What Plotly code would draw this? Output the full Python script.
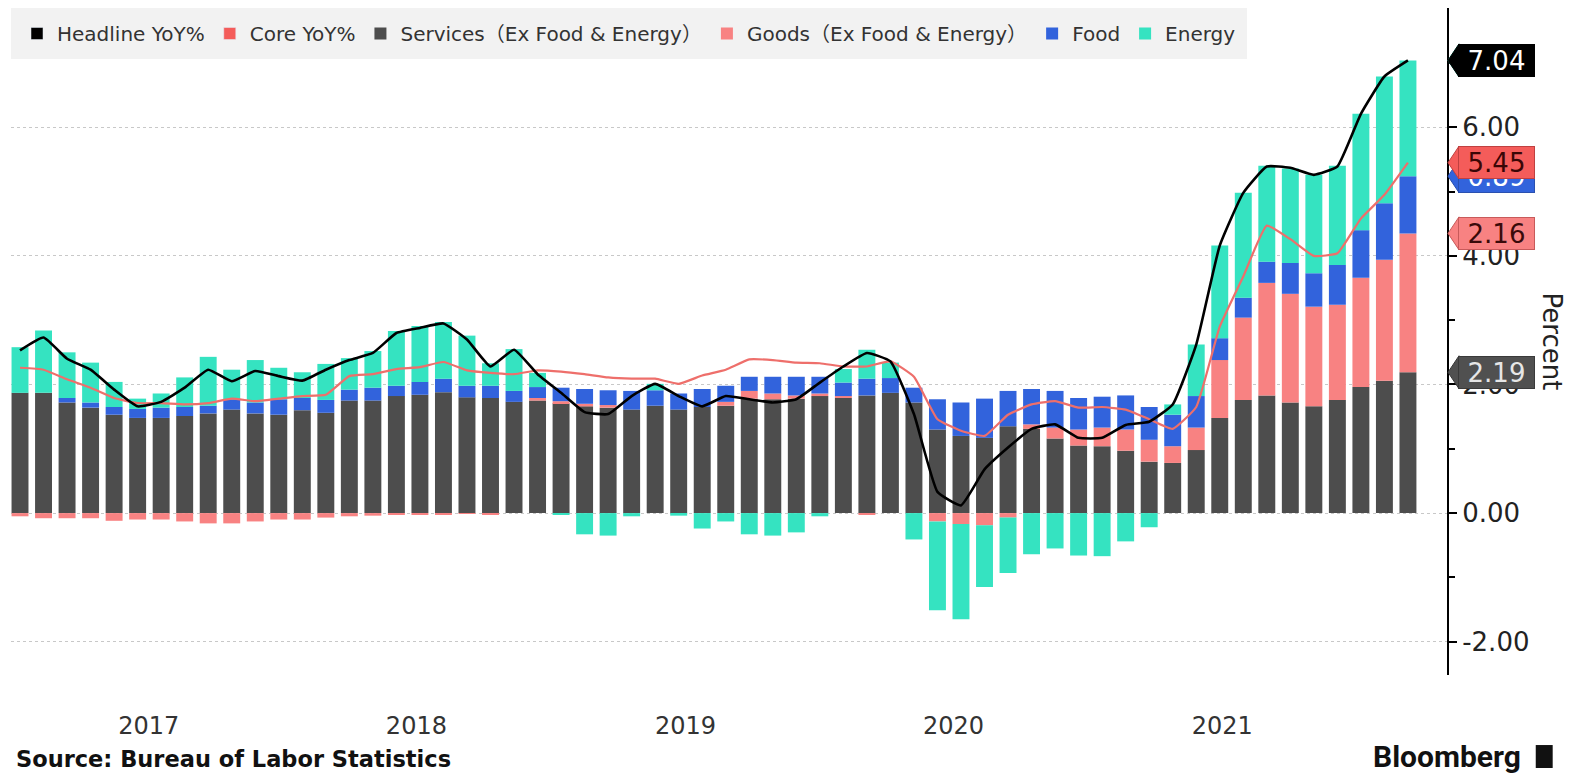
import plotly.graph_objects as go

# ---------------- data (contributions to US CPI YoY, percentage points) ----------------
MONTHS = [f"{y}-{m:02d}" for y in range(2017, 2022) for m in range(1, 13)]

SERVICES = [1.87, 1.87, 1.72, 1.64, 1.53, 1.48, 1.48, 1.51, 1.55, 1.61, 1.55, 1.53,
            1.60, 1.56, 1.75, 1.75, 1.82, 1.84, 1.88, 1.80, 1.79, 1.73, 1.75, 1.71,
            1.66, 1.64, 1.61, 1.67, 1.61, 1.65, 1.67, 1.78, 1.77, 1.78, 1.82, 1.79,
            1.83, 1.87, 1.72, 1.30, 1.20, 1.17, 1.35, 1.31, 1.16, 1.05, 1.04, 0.97,
            0.80, 0.78, 0.98, 1.48, 1.76, 1.83, 1.72, 1.66, 1.76, 1.96, 2.06, 2.19]

GOODS = [-0.05, -0.08, -0.08, -0.08, -0.12, -0.10, -0.10, -0.13, -0.16, -0.16, -0.13, -0.10,
         -0.10, -0.07, -0.05, -0.04, -0.03, -0.03, -0.02, -0.01, -0.03, 0.00, 0.04, 0.03,
         0.04, 0.04, 0.00, 0.00, -0.01, 0.00, 0.06, 0.12, 0.09, 0.05, 0.04, 0.03,
         -0.02, 0.00, 0.00, -0.13, -0.17, -0.19, -0.07, 0.07, 0.17, 0.25, 0.29, 0.33,
         0.34, 0.26, 0.35, 0.90, 1.28, 1.75, 1.69, 1.55, 1.48, 1.70, 1.88, 2.16]

FOOD = [0.00, 0.00, 0.07, 0.08, 0.12, 0.14, 0.16, 0.14, 0.12, 0.16, 0.17, 0.24,
        0.19, 0.20, 0.17, 0.20, 0.16, 0.20, 0.21, 0.18, 0.19, 0.17, 0.17, 0.21,
        0.23, 0.23, 0.29, 0.24, 0.25, 0.28, 0.25, 0.22, 0.26, 0.29, 0.26, 0.21,
        0.26, 0.23, 0.23, 0.47, 0.52, 0.61, 0.55, 0.55, 0.57, 0.49, 0.48, 0.53,
        0.51, 0.49, 0.49, 0.34, 0.31, 0.33, 0.48, 0.52, 0.62, 0.74, 0.88, 0.89]

ENERGY = [0.71, 0.97, 0.71, 0.62, 0.39, 0.16, 0.22, 0.46, 0.76, 0.46, 0.66, 0.49,
          0.40, 0.56, 0.49, 0.57, 0.85, 0.87, 0.88, 0.78, 0.35, 0.65, 0.22, -0.03,
          -0.33, -0.35, -0.05, 0.10, -0.03, -0.24, -0.13, -0.33, -0.35, -0.30, -0.05, 0.21,
          0.45, 0.24, -0.41, -1.38, -1.48, -0.96, -0.86, -0.64, -0.55, -0.66, -0.67, -0.44,
          -0.22, 0.16, 0.80, 1.44, 1.63, 1.49, 1.47, 1.53, 1.54, 1.81, 1.97, 1.80]

HEADLINE = [2.53, 2.73, 2.40, 2.23, 1.92, 1.66, 1.73, 1.95, 2.23, 2.05, 2.21, 2.13,
            2.06, 2.23, 2.38, 2.49, 2.80, 2.88, 2.95, 2.70, 2.28, 2.54, 2.16, 1.87,
            1.57, 1.54, 1.82, 2.01, 1.82, 1.66, 1.82, 1.77, 1.72, 1.77, 2.03, 2.28,
            2.49, 2.36, 1.54, 0.33, 0.12, 0.68, 1.02, 1.31, 1.38, 1.17, 1.17, 1.37,
            1.42, 1.69, 2.62, 4.16, 4.98, 5.39, 5.37, 5.26, 5.39, 6.21, 6.79, 7.04]

CORE = [2.26, 2.23, 2.08, 1.95, 1.79, 1.71, 1.71, 1.69, 1.71, 1.78, 1.74, 1.78,
        1.82, 1.84, 2.13, 2.16, 2.24, 2.27, 2.35, 2.22, 2.18, 2.16, 2.22, 2.20,
        2.16, 2.11, 2.09, 2.09, 2.01, 2.14, 2.23, 2.39, 2.38, 2.34, 2.33, 2.28,
        2.28, 2.36, 2.12, 1.46, 1.28, 1.20, 1.53, 1.69, 1.74, 1.64, 1.65, 1.61,
        1.46, 1.31, 1.65, 2.90, 3.68, 4.47, 4.26, 4.00, 4.04, 4.58, 4.95, 5.45]

YEAR_LABELS = ["2017", "2018", "2019", "2020", "2021"]
YEAR_TICK_POS = [5.47, 16.85, 28.29, 39.68, 51.11]   # in month-index units
Y_TICKS = [-2, 0, 2, 4, 6]
Y_TICK_TEXT = [f"{v:.2f}" for v in Y_TICKS]
Y_MINOR = [-1, 1, 3, 5, 7]

# ---------------- styling ----------------
FONT = "DejaVu Sans, Noto Sans CJK SC, sans-serif"
C_HEAD = "#000000"
C_CORE = "#f45c5a"
C_CORE_LINE = "#ee6f6b"
C_SERV = "#4d4d4d"
C_GOODS = "#f88282"
C_FOOD = "#3263dc"
C_ENERGY = "#35e3c1"

X = list(range(len(MONTHS)))
BAR_W = 0.72

fig = go.Figure()

# legend entries for the two lines (square swatches like the reference; they draw nothing)
fig.add_trace(go.Bar(x=[None], y=[None], name="Headline YoY%", marker_color=C_HEAD,
                     legendgroup="head", hoverinfo="skip"))
fig.add_trace(go.Bar(x=[None], y=[None], name="Core YoY%", marker_color=C_CORE,
                     legendgroup="core", hoverinfo="skip"))

for name, vals, col in [("Services（Ex Food & Energy）", SERVICES, C_SERV),
                        ("Goods（Ex Food & Energy）", GOODS, C_GOODS),
                        ("Food", FOOD, C_FOOD),
                        ("Energy", ENERGY, C_ENERGY)]:
    fig.add_trace(go.Bar(x=X, y=vals, name=name, width=BAR_W,
                         marker=dict(color=col, line=dict(width=0)),
                         customdata=MONTHS,
                         hovertemplate="%{customdata}: %{y:.2f}<extra>" + name + "</extra>"))

fig.add_trace(go.Scatter(x=X, y=CORE, mode="lines", name="Core YoY%", showlegend=False,
                         legendgroup="core", customdata=MONTHS,
                         hovertemplate="%{customdata}: %{y:.2f}<extra>Core YoY%</extra>",
                         line=dict(color=C_CORE_LINE, width=2.2, shape="spline", smoothing=0.4)))
fig.add_trace(go.Scatter(x=X, y=HEADLINE, mode="lines", name="Headline YoY%", showlegend=False,
                         legendgroup="head", customdata=MONTHS,
                         hovertemplate="%{customdata}: %{y:.2f}<extra>Headline YoY%</extra>",
                         line=dict(color=C_HEAD, width=2.6, shape="spline", smoothing=0.4)))

# ---------------- right-hand value tags ----------------
last = len(X) - 1
cum_serv = SERVICES[last]
cum_goods = cum_serv + GOODS[last]
cum_food = cum_goods + FOOD[last]
cum_energy = cum_food + ENERGY[last]

tags = [  # (y position, value shown, bg, text color, border) drawn bottom to top
    (cum_energy, ENERGY[last], C_ENERGY, "#1a1a1a", C_ENERGY),
    (cum_serv, SERVICES[last], "#505050", "#e6e6e6", "#3a3a3a"),
    (cum_goods, GOODS[last], C_GOODS, "#3a0a0a", "#c85a5a"),
    (cum_food, FOOD[last], C_FOOD, "#ffffff", "#2a50b0"),
    (CORE[last], CORE[last], C_CORE, "#3a0606", "#c04040"),
    (HEADLINE[last], HEADLINE[last], C_HEAD, "#ffffff", "#000000"),
]
for ypos, val, bg, fg, bd in tags:
    fig.add_shape(type="path", xref="paper", yref="y", xsizemode="pixel", ysizemode="pixel",
                  xanchor=1, yanchor=ypos, path="M 1 0 L 12 16.5 L 12 -16.5 Z",
                  fillcolor=bg, line=dict(color=bd, width=1), layer="above")
    fig.add_annotation(xref="paper", yref="y", x=1, y=ypos, xanchor="left", yanchor="middle",
                       xshift=11, text=f"{val:.2f}", showarrow=False, bgcolor=bg,
                       bordercolor=bd, borderwidth=1, borderpad=0, width=75, height=31,
                       align="center", font=dict(size=26, color=fg, family=FONT))

# axis title and footer texts
fig.add_annotation(xref="paper", yref="paper", x=1.0738, y=0.5, text="Percent",
                   textangle=90, showarrow=False, xanchor="center", yanchor="middle",
                   font=dict(size=26, color="#222222", family=FONT))
fig.add_annotation(xref="paper", yref="paper", x=0.002, y=-0.126, xanchor="left",
                   yanchor="middle", text="<b>Source: Bureau of Labor Statistics</b>",
                   showarrow=False, font=dict(size=22.5, color="#111111", family=FONT))
fig.add_annotation(xref="paper", yref="paper", x=1.0527, y=-0.122, xanchor="right",
                   yanchor="middle", text="<b>Bloomberg</b>", showarrow=False,
                   font=dict(size=30, color="#111111", family="Roboto, DejaVu Sans, sans-serif"))
fig.add_shape(type="rect", xref="paper", yref="paper", x0=1.0618, x1=1.0736,
              y0=-0.1394, y1=-0.105, fillcolor="#111111", line=dict(width=0))

fig.update_layout(
    width=1574, height=777,
    margin=dict(l=11, r=127, t=8, b=102),
    barmode="relative",
    bargap=0.28,
    plot_bgcolor="white", paper_bgcolor="white",
    font=dict(family=FONT, color="#333333"),
    showlegend=True,
    legend=dict(orientation="h", x=0, y=1, xanchor="left", yanchor="top",
                bgcolor="#f2f2f2", bordercolor="#f2f2f2", borderwidth=6,
                font=dict(size=20, color="#333333", family=FONT),
                traceorder="normal", itemclick="toggle"),
    xaxis=dict(range=[-0.383, 60.66], showgrid=False, zeroline=False, showline=False,
               tickmode="array", tickvals=YEAR_TICK_POS, ticktext=YEAR_LABELS,
               ticks="", ticklabelstandoff=34,
               tickfont=dict(size=24, color="#333333", family=FONT)),
    yaxis=dict(side="right", range=[-2.518, 7.855], tickmode="array", tickvals=Y_TICKS,
               ticktext=Y_TICK_TEXT, showline=True, linecolor="#000000", linewidth=2,
               ticks="outside", ticklen=8, tickwidth=2, tickcolor="#000000",
               tickfont=dict(size=26, color="#222222", family=FONT),
               showgrid=True, gridcolor="#c8c8c8", griddash="dot", gridwidth=1,
               zeroline=False,
               minor=dict(tickmode="array", tickvals=Y_MINOR, ticks="outside", ticklen=6,
                          tickwidth=2, tickcolor="#000000", showgrid=False)),
)

fig.write_html("out.html", config={"displayModeBar": False},
               post_script="document.body.style.margin='0';")
